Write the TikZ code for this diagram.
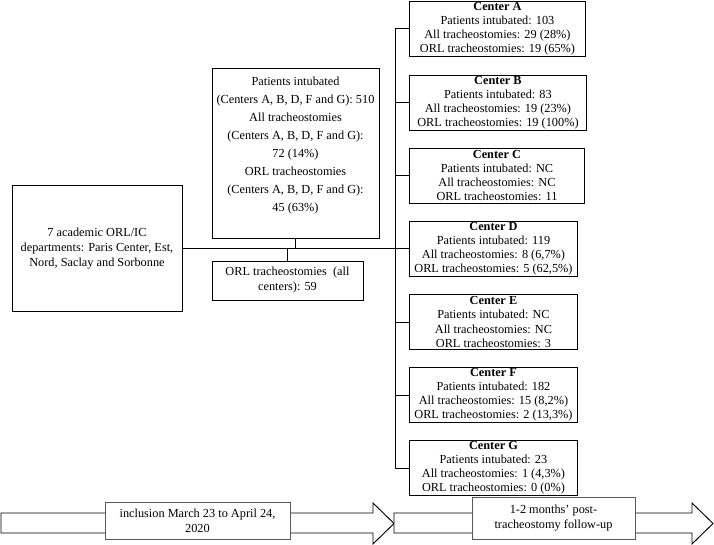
\documentclass[tikz,border=0pt]{standalone}
\usepackage{fontspec}
\setmainfont{Liberation Serif}
\tikzset{
  panel/.style={draw, line width=0.8pt, fill=white, align=center, inner sep=0pt, font=\fontsize{10.5}{12.8}\selectfont},
  centerbox/.style={panel, anchor=west, minimum height=55*0.03cm, font=\fontsize{10.5}{12}\selectfont},
  timebox/.style={panel, draw=black!65, line width=0.6pt},
  band/.style={draw, line width=0.8pt, fill=white},
  link/.style={line width=0.8pt},
}
\begin{document}
\begin{tikzpicture}[x=0.03cm,y=-0.03cm]
    \useasboundingbox (0,0) rectangle (714,545);
    \draw[band] (1,513) -- (373,513) -- (373,503) -- (394,523.5) -- (373,544) -- (373,533) -- (1,533) -- cycle;
    \draw[band] (394,513) -- (692,513) -- (692,503) -- (713,523.5) -- (692,544) -- (692,533) -- (394,533) -- cycle;
    \node[timebox, minimum width=185*0.03cm, minimum height=37*0.03cm] (incl) at (197.5,520.5) {inclusion March 23 to April 24,\\2020};
    \node[timebox, minimum width=163*0.03cm, minimum height=42*0.03cm] (follow) at (553.5,518) {1-2 months' post-\\tracheostomy follow-up};
    \node[panel, minimum width=170*0.03cm, minimum height=126*0.03cm] (depts) at (97,248.5) {7 academic ORL/IC\\departments: Paris Center, Est,\\Nord, Saclay and Sorbonne};
    \node[panel, minimum width=167*0.03cm, minimum height=170*0.03cm, font=\fontsize{10.5}{15.4}\selectfont] (pooled) at (295.5,153) {Patients intubated\\(Centers A, B, D, F and G): 510\\All tracheostomies\\(Centers A, B, D, F and G):\\72 (14\%)\\ORL tracheostomies\\(Centers A, B, D, F and G):\\45 (63\%)\\ \mbox{}};
    \node[panel, minimum width=151*0.03cm, minimum height=39*0.03cm] (allorl) at (287.5,280.5) {ORL tracheostomies~~(all\\centers): 59};
    \foreach \ctr/\y/\w/\npat/\nall/\norl in {A/28.5/176/103/29 (28\%)/19 (65\%), B/102.5/177/83/19 (23\%)/19 (100\%), C/175.5/175/NC/NC/11, D/248.5/168/119/{8 (6,7\%)}/{5 (62,5\%)}, E/322/168/NC/NC/3, F/395/168/182/{15 (8,2\%)}/{2 (13,3\%)}, G/468/168/23/{1 (4,3\%)}/0 (0\%)}
        \node[centerbox, minimum width=\w*0.03cm] (c\ctr) at (409,\y) {\textbf{Center \ctr}\\Patients intubated: \npat\\All tracheostomies: \nall\\ORL tracheostomies: \norl};
    \coordinate (spine) at (395,0);
    \draw[link] (cA.west -| spine) -- (cG.west -| spine);
    \foreach \ctr in {A,B,C,E,F,G} \draw[link] (c\ctr.west -| spine) -- (c\ctr.west);
    \draw[link] (depts.east) -- (cD.west);
    \draw[link] (pooled.south) -- (pooled.south |- depts.east);
    \draw[link] (allorl.north) -- (allorl.north |- depts.east);
\end{tikzpicture}
\end{document}
